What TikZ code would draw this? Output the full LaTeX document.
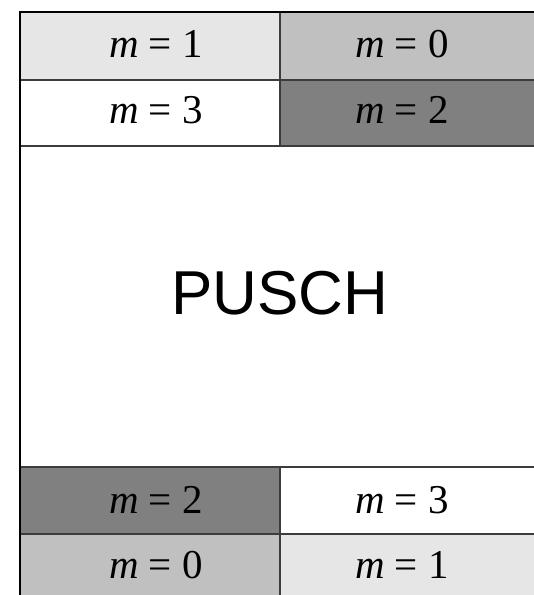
\documentclass[tikz,border=0pt]{standalone}
\usepackage{fontspec}
\setmainfont{Liberation Serif}
\newfontfamily\puschfont{Liberation Sans}
\usepackage{xcolor}
\usepackage{tikz}
\definecolor{GrisClaro}{RGB}{230,230,230}
\definecolor{GrisMedio}{RGB}{192,192,192}
\definecolor{GrisOscuro}{RGB}{128,128,128}
\definecolor{GrisLinea}{RGB}{60,60,60}
\tikzset{
  etiqueta/.style={anchor=base,inner sep=0pt,font=\fontsize{41}{46}\selectfont},
  divisor/.style={draw=GrisLinea,line width=1.1pt},
  borde/.style={draw=black,line width=1.6pt}
}
\newcommand{\mval}[1]{\textit{m} = #1}

\begin{document}
\begin{tikzpicture}[x=1pt,y=-1pt]
  \useasboundingbox (0,0) rectangle (534,595);
  % celdas superiores
  \fill[GrisClaro]  (20,12)  rectangle (280,80);
  \fill[GrisMedio]  (280,12) rectangle (540,80);
  \fill[GrisOscuro] (280,80) rectangle (540,146);
  % celdas inferiores
  \fill[GrisOscuro] (20,467)  rectangle (280,534);
  \fill[GrisMedio]  (20,534)  rectangle (280,600);
  \fill[GrisClaro]  (280,534) rectangle (540,600);

  % lineas interiores
  \draw[divisor] (20,80) -- (540,80);
  \draw[divisor] (20,146) -- (540,146);
  \draw[divisor] (20,467) -- (540,467);
  \draw[divisor] (20,534) -- (540,534);
  \draw[divisor] (280,12) -- (280,146);
  \draw[divisor] (280,467) -- (280,600);
  % borde exterior
  \draw[borde] (540,12) -- (20,12) -- (20,600);

  \node[etiqueta] (a1) at (156,57)  {\mval{1}};
  \node[etiqueta] (a0) at (402,57)  {\mval{0}};
  \node[etiqueta] (a3) at (156,123) {\mval{3}};
  \node[etiqueta] (a2) at (402,123) {\mval{2}};

  \node[font=\puschfont\fontsize{62}{70}\selectfont,inner sep=0pt] (pusch) at (280,293) {PUSCH};

  \node[etiqueta] (b2) at (156,513) {\mval{2}};
  \node[etiqueta] (b3) at (402,513) {\mval{3}};
  \node[etiqueta] (b0) at (156,578) {\mval{0}};
  \node[etiqueta] (b1) at (402,578) {\mval{1}};
\end{tikzpicture}
\end{document}
